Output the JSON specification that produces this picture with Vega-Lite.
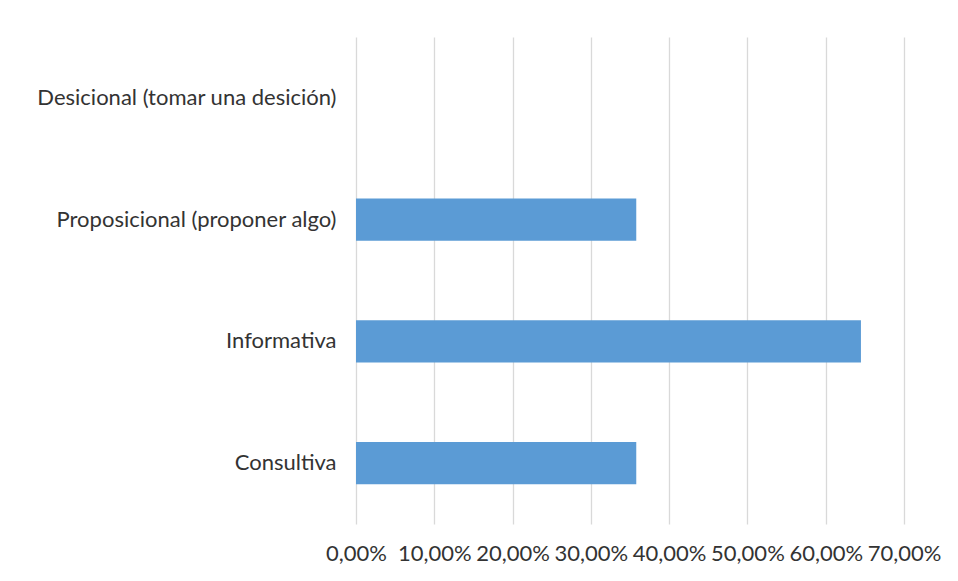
{
  "$schema": "https://vega.github.io/schema/vega-lite/v6.json",
  "width": 548,
  "height": 487,
  "autosize": {"type": "none"},
  "padding": {"left": 356, "top": 37, "right": 54, "bottom": 57},
  "background": "white",
  "data": {
    "values": [
      {"categoria": "Desicional (tomar una desición)", "porcentaje": 0},
      {"categoria": "Proposicional (proponer algo)", "porcentaje": 0.358},
      {"categoria": "Informativa", "porcentaje": 0.645},
      {"categoria": "Consultiva", "porcentaje": 0.358}
    ]
  },
  "mark": {"type": "bar", "color": "#5B9BD5"},
  "encoding": {
    "y": {
      "field": "categoria",
      "type": "nominal",
      "sort": null,
      "scale": {"paddingInner": 0.652, "paddingOuter": 0.326},
      "axis": {
        "title": null,
        "domain": false,
        "ticks": false,
        "labelPadding": 20,
        "labelFont": "Lato",
        "labelFontSize": 22,
        "labelColor": "#333333",
        "labelLimit": 400
      }
    },
    "x": {
      "field": "porcentaje",
      "type": "quantitative",
      "scale": {"domain": [0, 0.7], "nice": false},
      "axis": {
        "title": null,
        "values": [0, 0.1, 0.2, 0.3, 0.4, 0.5, 0.6, 0.7],
        "labelExpr": "replace(format(datum.value, '.2%'), '.', ',')",
        "labelOverlap": false,
        "labelFlush": false,
        "domain": false,
        "ticks": false,
        "grid": true,
        "gridColor": "#D9D9D9",
        "gridWidth": 1.3,
        "labelPadding": 19,
        "labelFont": "Lato",
        "labelFontSize": 22,
        "labelColor": "#333333"
      }
    }
  },
  "config": {"view": {"stroke": null}}
}
